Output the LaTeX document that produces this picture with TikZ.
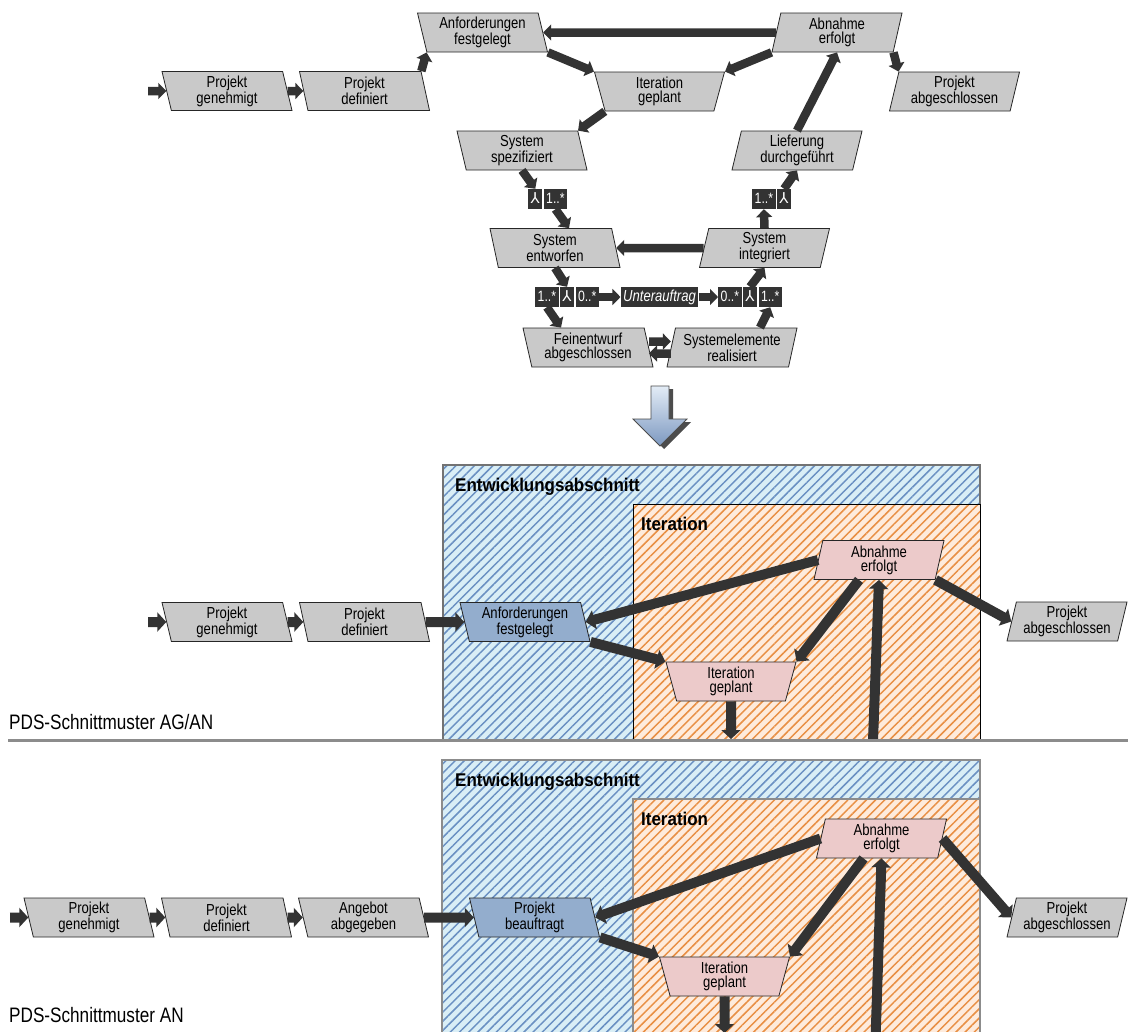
\documentclass[tikz,border=0pt]{standalone}
\usepackage{fontspec}
\setmainfont[FakeStretch=0.82]{Liberation Sans}
\newfontfamily\titlefont[FakeStretch=0.92]{Liberation Sans}
\newfontfamily\symfont{DejaVu Sans}
\usetikzlibrary{arrows.meta,positioning,shapes.geometric,patterns.meta}
\definecolor{evtgray}{HTML}{C9C9C9}
\definecolor{evtblue}{HTML}{93ADCD}
\definecolor{evtpink}{HTML}{ECCACA}
\definecolor{flowc}{HTML}{333333}
\definecolor{devfill}{HTML}{D9EEF6}
\definecolor{devline}{HTML}{6A90C2}
\definecolor{itfill}{HTML}{FEEBDC}
\definecolor{itline}{HTML}{E88F44}
\definecolor{sepgray}{HTML}{8C8C8C}
\definecolor{downtop}{HTML}{E3ECF6}
\definecolor{downbot}{HTML}{7C98C0}
\newcommand{\andsym}{{\symfont ⅄}}

\begin{document}
\begin{tikzpicture}[x=1bp,y=-1bp, evt/.style={trapezium,trapezium stretches body,draw=black!85,line width=0.8bp,fill=evtgray,align=center,font=\fontsize{16}{14}\selectfont,minimum width=130bp,minimum height=39bp,inner xsep=2bp,inner ysep=1bp}, leanl/.style={evt,trapezium left angle=106,trapezium right angle=74}, leanr/.style={evt,trapezium left angle=74,trapezium right angle=106}, cup/.style={evt,trapezium left angle=109,trapezium right angle=109}, tag/.style={fill=flowc,text=white,font=\fontsize{15}{16}\selectfont,minimum height=20bp,inner xsep=2.5bp,inner ysep=0pt,text height=11bp,text depth=3bp}, arrow/.style={draw=flowc,line width=8.5bp,-{Triangle[length=8bp,width=16bp]}}, arrowb/.style={draw=flowc,line width=10bp,-{Triangle[length=9bp,width=19bp]}}, hatchdev/.style={preaction={fill=devfill},pattern={Lines[angle=45,distance=6.5bp,line width=1.5bp]},pattern color=devline}, hatchit/.style={preaction={fill=itfill},pattern={Lines[angle=45,distance=6.5bp,line width=1.5bp]},pattern color=itline}, sect/.style={anchor=base west,inner sep=0pt,font=\titlefont\bfseries\fontsize{18.5}{20}\selectfont}, lane/.style={anchor=base west,inner sep=0pt,font=\fontsize{21}{24}\selectfont}, sepline/.style={draw=sepgray,line width=3bp}]
\fill[white] (0,0) rectangle (1128,1032);
\useasboundingbox (0,0) rectangle (1128,1032);

\node[leanl] (pg1) at (227,91) {Projekt\\genehmigt};
\node[leanl] (pd1) at (364.5,91) {Projekt\\definiert};
\node[leanl] (af1) at (482.5,32.5) {Anforderungen\\festgelegt};
\node[leanr] (ae1) at (837,32.5) {Abnahme\\erfolgt};
\node[cup] (ig1) at (659.5,91.5) {Iteration\\geplant};
\node[leanr] (pa1) at (954.5,91.5) {Projekt\\abgeschlossen};
\node[leanl] (ss1) at (522,150.5) {System\\spezifiziert};
\node[leanr] (ld1) at (797,150.5) {Lieferung\\durchgeführt};
\node[leanl] (se1) at (555,248) {System\\entworfen};
\node[leanr] (si1) at (764.5,248) {System\\integriert};
\node[leanl] (fa1) at (588,347.5) {Feinentwurf\\abgeschlossen};
\node[leanr] (sr1) at (732,347.5) {Systemelemente\\realisiert};
\node[tag,anchor=west] (m1a) at (528,199) {\andsym};
\node[tag,right=1bp of m1a] (m1b) {1..*};
\node[tag,anchor=west] (m2a) at (752,199) {1..*};
\node[tag,right=1bp of m2a] (m2b) {\andsym};
\node[tag,anchor=west] (m3a) at (535,297) {1..*};
\node[tag,right=1bp of m3a] (m3b) {\andsym};
\node[tag,right=1bp of m3b] (m3c) {0..*};
\node[tag,font=\fontsize{16}{16}\selectfont\itshape] (ua) at (659.5,297) {Unterauftrag};
\node[tag,anchor=west] (m4a) at (718,297) {0..*};
\node[tag,right=1bp of m4a] (m4b) {\andsym};
\node[tag,right=1bp of m4b] (m4c) {1..*};
\coordinate (in1) at (148,91);
\draw[arrow] (in1)--(pg1); \draw[arrow] (pg1)--(pd1); \draw[arrow] (pd1.top right corner)--(af1.bottom left corner);
\draw[arrow] (ae1)--(af1); \draw[arrow] (af1.bottom right corner)--(ig1.top left corner); \draw[arrow] (ae1.bottom left corner)--(ig1.top right corner);
\draw[arrow] (ig1.bottom left corner)--(ss1.top right corner); \draw[arrow] (ae1.bottom right corner)--(pa1.top left corner); \draw[arrow] (ld1.north)--(ae1.south);
\draw[arrow] (ss1.south)--(m1a.north); \draw[arrow] (m1b.south)--([xshift=14bp]se1.north);
\draw[arrow] (si1)--(se1); \draw[arrow] (si1.north)--(m2a.south); \draw[arrow] (m2b.north)--(ld1.south);
\draw[arrow] (se1.south)--(m3b.north); \draw[arrow] (m3a.south)--([xshift=-27bp]fa1.north);
\draw[arrow] (m3c)--(ua); \draw[arrow] (ua)--(m4a);
\draw[arrow] ([xshift=28bp]sr1.north)--(m4c.south); \draw[arrow] (m4b.north)--(si1.south);
\draw[arrow] ([yshift=6bp]fa1.east)--([yshift=6bp]sr1.west); \draw[arrow] ([yshift=-6bp]sr1.west)--([yshift=-6bp]fa1.east);

\fill[black!70,shift={(4,3)}] (651,386)--(669,386)--(669,419)--(687,419)--(660,446)--(633,419)--(651,419)--cycle;
\shade[top color=downtop,bottom color=downbot,draw=black!70,line width=0.8bp] (651,386)--(669,386)--(669,419)--(687,419)--(660,446)--(633,419)--(651,419)--cycle;

\draw[hatchdev,draw=black!55,line width=1.2bp] (443,465) rectangle (980,741);
\draw[hatchit,draw=black,line width=0.8bp] (633,504) rectangle (980,741);
\node[sect] (dev2) at (455,491) {Entwicklungsabschnitt};
\node[sect] (it2) at (641,530) {Iteration};
\node[leanl] (pg2) at (227,622) {Projekt\\genehmigt};
\node[leanl] (pd2) at (364.5,622) {Projekt\\definiert};
\node[leanl,fill=evtblue] (af2) at (525,622) {Anforderungen\\festgelegt};
\node[leanr,fill=evtpink] (ae2) at (879,560) {Abnahme\\erfolgt};
\node[cup,fill=evtpink] (ig2) at (731,681.5) {Iteration\\geplant};
\node[leanr,minimum width=120bp] (pa2) at (1067,621.5) {Projekt\\abgeschlossen};
\coordinate (in2) at (148,622); \coordinate (up2) at (873,741); \coordinate (dn2) at (731,739);
\draw[arrowb] (in2)--(pg2); \draw[arrowb] (pg2)--(pd2); \draw[arrowb] (pd2)--(af2);
\draw[arrowb] (ae2.west)--(af2.east); \draw[arrowb] (af2.bottom right corner)--(ig2.top left corner); \draw[arrowb] ([xshift=-20bp]ae2.south)--(ig2.top right corner);
\draw[arrowb] (up2)--(ae2.south); \draw[arrowb] (ig2.south)--(dn2); \draw[arrowb] (ae2.bottom right corner)--(pa2.west);
\coordinate (sepa) at (8,740); \coordinate (sepb) at (1128,740);
\draw[sepline] (sepa)--(sepb);
\node[lane] (lab2) at (9,729) {PDS-Schnittmuster AG/AN};

\draw[hatchdev,draw=sepgray,line width=2.5bp] (442,760) rectangle (980,1040);
\draw[hatchit,draw=sepgray,line width=2.5bp] (633,799) rectangle (980,1040);
\node[sect] (dev3) at (455,786) {Entwicklungsabschnitt};
\node[sect] (it3) at (641,825) {Iteration};
\node[leanl] (pg3) at (89,917.5) {Projekt\\genehmigt};
\node[leanl] (pd3) at (226.5,917.5) {Projekt\\definiert};
\node[leanl] (aa3) at (363.5,917.5) {Angebot\\abgegeben};
\node[leanl,fill=evtblue] (pb3) at (534.5,917.5) {Projekt\\beauftragt};
\node[leanr,fill=evtpink] (ae3) at (881.5,838.5) {Abnahme\\erfolgt};
\node[cup,fill=evtpink] (ig3) at (724.5,976.5) {Iteration\\geplant};
\node[leanr,minimum width=120bp] (pa3) at (1067,917.5) {Projekt\\abgeschlossen};
\coordinate (in3) at (10,917.5); \coordinate (up3) at (875.5,1040); \coordinate (dn3) at (724.5,1033);
\draw[arrowb] (in3)--(pg3); \draw[arrowb] (pg3)--(pd3); \draw[arrowb] (pd3)--(aa3); \draw[arrowb] (aa3)--(pb3);
\draw[arrowb] (ae3.west)--(pb3.east); \draw[arrowb] (pb3.bottom right corner)--(ig3.top left corner); \draw[arrowb] ([xshift=-18bp]ae3.south)--(ig3.top right corner);
\draw[arrowb] (up3)--(ae3.south); \draw[arrowb] (ig3.south)--(dn3); \draw[arrowb] (ae3.east)--(pa3.west);
\node[lane] (lab3) at (9,1022) {PDS-Schnittmuster AN};
\end{tikzpicture}
\end{document}
